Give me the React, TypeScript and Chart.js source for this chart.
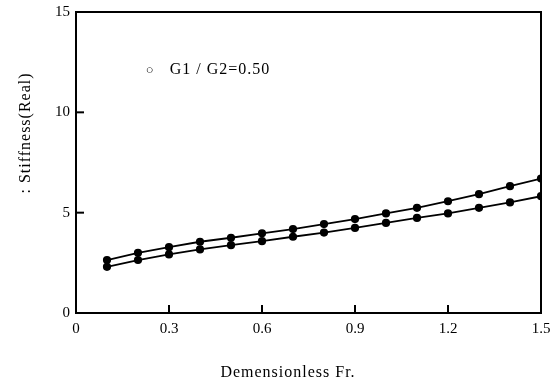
import React, { useEffect, useRef } from "react";
import { Chart, registerables } from "chart.js";

Chart.register(...registerables);

const froude = [0.1, 0.2, 0.3, 0.4, 0.5, 0.6, 0.7, 0.8, 0.9, 1.0, 1.1, 1.2, 1.3, 1.4, 1.5];
const upperSeries = [2.64, 3.0, 3.28, 3.55, 3.75, 3.97, 4.18, 4.43, 4.68, 4.96, 5.24, 5.57, 5.92, 6.32, 6.7];
const lowerSeries = [2.3, 2.64, 2.92, 3.17, 3.38, 3.58, 3.8, 4.01, 4.24, 4.49, 4.74, 4.96, 5.24, 5.51, 5.82];
const xTicks = [0, 0.3, 0.6, 0.9, 1.2, 1.5];
const xTickLabels = ["0", "0.3", "0.6", "0.9", "1.2", "1.5"];
const yTicks = [0, 5, 10, 15];
const legendMarker = "○";
const legendText = "G1 / G2=0.50";
const xTitle = "Demensionless Fr.";
const yTitle = ": Stiffness(Real)";

const FONT = "'Liberation Serif', 'DejaVu Serif', serif";

export default function App() {
  const ref = useRef<HTMLCanvasElement | null>(null);

  useEffect(() => {
    document.body.style.margin = "0";
    const canvas = ref.current;
    if (!canvas) return;

    const frame = {
      id: "frame",
      afterDraw(chart: any) {
        const { ctx, chartArea: a, scales } = chart;
        ctx.save();
        ctx.strokeStyle = "#000";
        ctx.lineWidth = 2;
        ctx.strokeRect(a.left, a.top, a.right - a.left, a.bottom - a.top);
        // inward ticks
        yTicks.forEach((v) => {
          if (v === 0 || v === 15) return;
          const y = scales.y.getPixelForValue(v);
          ctx.beginPath();
          ctx.moveTo(a.left, y);
          ctx.lineTo(a.left + 8, y);
          ctx.stroke();
        });
        xTicks.forEach((v) => {
          if (v === 0 || v === 1.5) return;
          const x = scales.x.getPixelForValue(v);
          ctx.beginPath();
          ctx.moveTo(x, a.bottom);
          ctx.lineTo(x, a.bottom - 8);
          ctx.stroke();
        });
        // legend text
        ctx.fillStyle = "#000";
        ctx.textBaseline = "middle";
        ctx.textAlign = "left";
        const lx = scales.x.getPixelForValue(0.225);
        const ly = scales.y.getPixelForValue(12.1);
        ctx.font = `13px ${FONT}`;
        ctx.fillText(legendMarker, lx, ly);
        ctx.font = `16px ${FONT}`;
        (ctx as any).letterSpacing = "1px";
        ctx.fillText(legendText, lx + 24, ly);
        // axis titles
        ctx.font = `16px ${FONT}`;
        ctx.textAlign = "center";
        ctx.fillText(xTitle, 288, 373);
        ctx.save();
        ctx.translate(26, 133);
        ctx.rotate(-Math.PI / 2);
        ctx.fillText(yTitle, 0, 0);
        ctx.restore();
        (ctx as any).letterSpacing = "0px";
        ctx.restore();
      },
    };

    const chart = new Chart(canvas, {
      type: "line",
      data: {
        datasets: [
          {
            data: froude.map((x, i) => ({ x, y: upperSeries[i] })),
            borderColor: "#000",
            backgroundColor: "#000",
            borderWidth: 1.8,
            pointRadius: 3.2,
            pointHoverRadius: 3.2,
            fill: false,
          },
          {
            data: froude.map((x, i) => ({ x, y: lowerSeries[i] })),
            borderColor: "#000",
            backgroundColor: "#000",
            borderWidth: 1.8,
            pointRadius: 3.2,
            pointHoverRadius: 3.2,
            fill: false,
          },
        ],
      },
      options: {
        animation: false,
        responsive: false,
        devicePixelRatio: 1,
        layout: { padding: { left: 0, right: 0, top: 12, bottom: 0 } },
        plugins: { legend: { display: false }, tooltip: { enabled: false } },
        scales: {
          x: {
            type: "linear",
            min: 0,
            max: 1.5,
            afterBuildTicks: (s: any) => {
              s.ticks = xTicks.map((v) => ({ value: v }));
            },
            afterFit: (s: any) => {
              s.height = 70;
              s.paddingRight = 11;
              s.paddingLeft = 0;
            },
            ticks: {
              color: "#000",
              font: { family: FONT, size: 15 },
              padding: 7,
              maxRotation: 0,
              callback: (v: any) => {
                const i = xTicks.indexOf(Number(v));
                return i >= 0 ? xTickLabels[i] : "";
              },
            },
            grid: { display: false, drawTicks: false },
            border: { display: false },
          },
          y: {
            type: "linear",
            min: 0,
            max: 15,
            afterBuildTicks: (s: any) => {
              s.ticks = yTicks.map((v) => ({ value: v }));
            },
            afterFit: (s: any) => {
              s.width = 76;
              s.paddingTop = 0;
              s.paddingBottom = 0;
            },
            ticks: {
              color: "#000",
              font: { family: FONT, size: 15 },
              padding: 6,
            },
            grid: { display: false, drawTicks: false },
            border: { display: false },
          },
        },
      },
      plugins: [frame],
    });

    return () => chart.destroy();
  }, []);

  return <canvas ref={ref} width={552} height={383} style={{ display: "block" }} />;
}
